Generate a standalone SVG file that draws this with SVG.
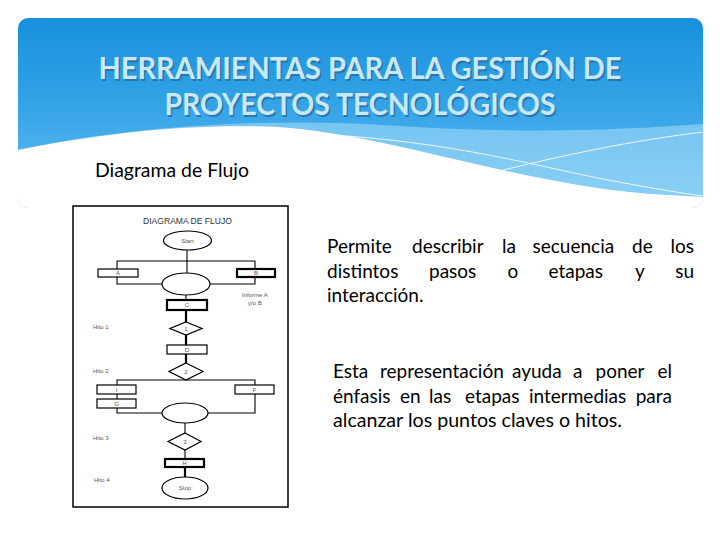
<svg xmlns="http://www.w3.org/2000/svg" width="720" height="540" viewBox="0 0 720 540">
<defs>
<linearGradient id="hg" x1="0" y1="0" x2="0" y2="1">
<stop offset="0" stop-color="#1790dc"/>
<stop offset="0.5" stop-color="#37a5e8"/>
<stop offset="1" stop-color="#6cc3f2"/>
</linearGradient>
<clipPath id="hc"><rect x="18" y="18" width="685" height="190" rx="10"/></clipPath>
<style>
.title{font-family:Lato,"Liberation Sans",sans-serif;font-weight:700;font-size:30px;text-anchor:middle}
.body{font-family:Lato,"Liberation Sans",sans-serif;font-size:19px;fill:#000}
.fc{font-family:"Liberation Sans",Arial,sans-serif;font-size:6px;fill:#555;text-anchor:middle}
.fl{font-family:"Liberation Sans",Arial,sans-serif;font-size:6px;fill:#555}
.n{fill:#fff;stroke:#000;stroke-width:1.2}
.nb{fill:#fff;stroke:#000;stroke-width:2.2}
.c{fill:none;stroke:#000;stroke-width:1.1}
.ct{fill:none;stroke:#000;stroke-width:2.2}
</style>
</defs>
<rect width="720" height="540" fill="#fff"/>
<g id="header">
<g clip-path="url(#hc)">
<rect x="18" y="18" width="685" height="190" fill="url(#hg)"/>
<path d="M18,150 C120,128 260,116 400,126 C520,134 620,130 703,124 L703,210 L18,210 Z" fill="#a8dcf8" opacity="0.55"/>
<path d="M18,150 C110,131 210,122 290,128 C400,138 520,184 650,194 L703,197 L703,210 L18,210 Z" fill="#fff"/>
<path d="M235,132 C380,132 470,150 560,170 C610,181 660,190 703,196" fill="none" stroke="#fff" stroke-width="1" opacity="0.85"/>
<path d="M440,186 C540,160 620,142 703,132" fill="none" stroke="#fff" stroke-width="1" opacity="0.85"/>
</g>
<text class="title" x="361.5" y="80.5" fill="#2a6690" opacity="0.7" textLength="523" lengthAdjust="spacingAndGlyphs">HERRAMIENTAS PARA LA GESTIÓN DE</text>
<text class="title" x="360" y="79" fill="#c9e9fa" textLength="523" lengthAdjust="spacingAndGlyphs">HERRAMIENTAS PARA LA GESTIÓN DE</text>
<text class="title" x="361.5" y="116.5" fill="#2a6690" opacity="0.7" textLength="391" lengthAdjust="spacingAndGlyphs">PROYECTOS TECNOLÓGICOS</text>
<text class="title" x="360" y="115" fill="#c9e9fa" textLength="391" lengthAdjust="spacingAndGlyphs">PROYECTOS TECNOLÓGICOS</text>
</g>
<text id="subtitle" x="95" y="177" font-family="Lato,'Liberation Sans',sans-serif" font-size="19" fill="#000" textLength="154" lengthAdjust="spacingAndGlyphs">Diagrama de Flujo</text>

<g id="flowchart">
<rect x="73" y="206" width="215" height="301" fill="#fff" stroke="#000" stroke-width="1.5"/>
<text x="187.5" y="224" font-family="'Liberation Sans',Arial,sans-serif" font-size="9" fill="#333" text-anchor="middle" textLength="89" lengthAdjust="spacingAndGlyphs">DIAGRAMA DE FLUJO</text>
<g id="connectors">
<path class="c" d="M187,250 V273"/>
<path class="c" d="M117,269 V261 H255 V269"/>
<path class="c" d="M117,277 V284 H162"/>
<path class="c" d="M255,277 V284 H210"/>
<path class="c" d="M186,295 V300"/>
<path class="ct" d="M186,310 V322"/>
<path class="ct" d="M186,335 V345"/>
<path class="ct" d="M186,354 V363"/>
<path class="c" d="M117,385 V380 H255 V385"/>
<path class="c" d="M117,394 V399"/>
<path class="c" d="M117,408 V413 H162"/>
<path class="c" d="M255,394 V413 H208"/>
<path class="c" d="M185,423 V433"/>
<path class="c" d="M185,450 V459"/>
<path class="ct" d="M185,467 V477"/>
</g>
<g id="start"><ellipse class="n" cx="187.5" cy="240.5" rx="24" ry="9.5"/><text class="fc" x="187.5" y="242.5">Start</text></g>
<g id="a"><rect class="n" x="98" y="269" width="40" height="8"/><text class="fc" x="118" y="275">A</text></g>
<g id="b"><rect class="nb" x="237" y="269" width="38" height="8"/><text class="fc" x="256" y="275">B</text></g>
<g id="merge1"><ellipse class="n" cx="186" cy="284" rx="24" ry="11"/></g>
<g id="c"><rect class="nb" x="167" y="300" width="40" height="10"/><text class="fc" x="187" y="307">C</text></g>
<g id="informe"><text class="fl" x="242" y="297">Informe A</text><text class="fl" x="248" y="305">y/o B</text></g>
<g id="d1"><polygon class="n" points="186,322 202,328.5 186,335 170,328.5"/><text class="fc" x="186" y="330.5">1</text></g>
<g id="hito1"><text class="fl" x="93" y="329">Hito 1</text></g>
<g id="d"><rect class="n" x="167" y="345" width="40" height="9"/><text class="fc" x="187" y="352">D</text></g>
<g id="d2"><polygon class="n" points="186,363 203,371.5 186,380 169,371.5"/><text class="fc" x="186" y="373.5">2</text></g>
<g id="hito2"><text class="fl" x="93" y="373">Hito 2</text></g>
<g id="i"><rect class="n" x="97" y="385" width="39" height="9"/><text class="fc" x="116.5" y="392">I</text></g>
<g id="f"><rect class="n" x="235" y="385" width="39" height="9"/><text class="fc" x="254.5" y="392">F</text></g>
<g id="g"><rect class="n" x="97" y="399" width="39" height="9"/><text class="fc" x="116.5" y="406">G</text></g>
<g id="merge2"><ellipse class="n" cx="185" cy="413" rx="23" ry="10"/></g>
<g id="d3"><polygon class="n" points="185,433 201,441.5 185,450 168,441.5"/><text class="fc" x="185" y="443.5">3</text></g>
<g id="hito3"><text class="fl" x="93" y="440">Hito 3</text></g>
<g id="h"><rect class="nb" x="165" y="459" width="39" height="8"/><text class="fc" x="184.5" y="465">H</text></g>
<g id="stop"><ellipse class="n" cx="185" cy="488" rx="23" ry="11"/><text class="fc" x="185" y="490">Stop</text></g>
<g id="hito4"><text class="fl" x="94" y="482">Hito 4</text></g>
</g>

<g id="para1" class="body">
<text y="253"><tspan x="327">Permite</tspan><tspan x="412">describir</tspan><tspan x="502">la</tspan><tspan x="532.5">secuencia</tspan><tspan x="632">de</tspan></text>
<text y="253" x="694" text-anchor="end">los</text>
<text y="278"><tspan x="327">distintos</tspan><tspan x="429">pasos</tspan><tspan x="507.5">o</tspan><tspan x="548.5">etapas</tspan><tspan x="635">y</tspan></text>
<text y="278" x="694" text-anchor="end">su</text>
<text y="302" x="327">interacción.</text>
</g>
<g id="para2" class="body">
<text y="378"><tspan x="333">Esta</tspan><tspan x="380">representación</tspan><tspan x="512">ayuda</tspan><tspan x="573">a</tspan><tspan x="595.5">poner</tspan></text>
<text y="378" x="672" text-anchor="end">el</text>
<text y="403"><tspan x="333">énfasis</tspan><tspan x="400">en</tspan><tspan x="429">las</tspan><tspan x="465">etapas</tspan><tspan x="529">intermedias</tspan></text>
<text y="403" x="672" text-anchor="end">para</text>
<text y="427" x="333" textLength="289" lengthAdjust="spacingAndGlyphs">alcanzar los puntos claves o hitos.</text>
</g>
</svg>
